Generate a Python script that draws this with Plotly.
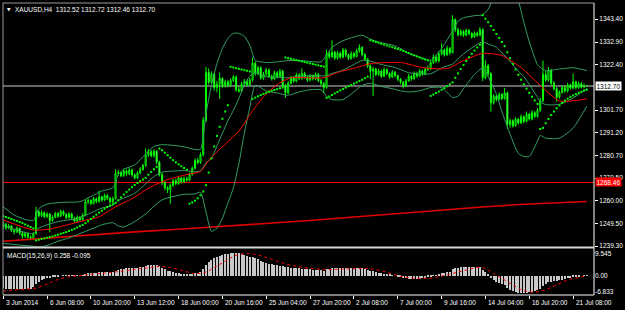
import plotly.graph_objects as go

# ---------------- price data (XAUUSD H4) ----------------
first_open = 1248.0
close = [
    1249.2, 1247.6, 1248.5, 1246.6, 1245.8, 1247.4, 1245.2, 1243.8, 1245.0, 1243.4,
    1242.8, 1244.9, 1255.0, 1253.2, 1254.6, 1252.8, 1253.9, 1251.0, 1252.5, 1254.2,
    1253.0, 1255.1, 1253.8, 1252.4, 1254.0, 1252.1, 1250.8, 1252.6, 1251.4, 1253.5,
    1259.6, 1260.2, 1258.8, 1261.0, 1259.7, 1261.8, 1260.4, 1262.5, 1261.2, 1259.6,
    1261.0, 1272.6, 1273.0, 1271.6, 1273.8, 1272.4, 1274.2, 1271.9, 1270.6, 1272.8,
    1274.5, 1276.2, 1281.0, 1282.6, 1280.8, 1282.8, 1277.8, 1272.0, 1268.4, 1266.0,
    1265.2, 1267.2, 1269.2, 1268.0, 1270.5, 1268.8, 1270.2, 1269.5, 1272.2, 1275.0,
    1278.6, 1277.6, 1281.2, 1297.0, 1319.0, 1314.5, 1318.2, 1312.0, 1313.6, 1316.2,
    1312.8, 1314.6, 1313.0, 1315.3, 1316.9, 1311.0, 1310.4, 1313.6, 1314.8, 1313.2,
    1315.5, 1323.2, 1318.4, 1321.0, 1316.4, 1318.2, 1320.0, 1317.2, 1316.0, 1318.8,
    1317.0, 1319.5, 1313.0, 1309.6, 1314.0, 1316.5, 1315.0, 1317.8, 1316.2, 1318.5,
    1316.8, 1315.5, 1317.3, 1316.0, 1318.0, 1315.2, 1313.8, 1312.0, 1327.6, 1326.2,
    1328.2, 1325.5, 1327.8, 1326.0, 1329.2, 1327.0, 1325.4, 1327.6, 1326.3, 1328.8,
    1330.4, 1327.2, 1325.0, 1322.0, 1319.5, 1320.5, 1318.0, 1319.6, 1317.2, 1320.2,
    1318.5, 1316.8, 1319.0, 1317.5, 1315.8, 1314.5, 1312.8, 1315.0, 1317.2, 1316.0,
    1318.5, 1317.3, 1319.6, 1318.2, 1320.4, 1320.5, 1323.5, 1326.0, 1324.2, 1327.5,
    1329.2, 1327.0, 1330.0, 1328.0, 1343.2, 1338.5, 1336.2, 1337.8, 1336.0, 1338.2,
    1336.8, 1335.2, 1337.0, 1336.0, 1338.6, 1316.5, 1322.0, 1318.4, 1305.0, 1308.0,
    1306.5, 1308.8, 1307.0, 1309.5, 1295.0, 1296.8, 1294.5, 1297.5, 1295.8, 1298.6,
    1296.5, 1299.8, 1297.6, 1300.5, 1298.8, 1301.5, 1306.0, 1318.0, 1315.5, 1320.0,
    1314.0, 1311.5, 1307.6, 1309.8, 1312.0, 1310.5, 1313.2, 1311.8, 1314.6, 1312.0,
    1313.8, 1312.2, 1312.52, 1312.70,
]
high = [
    1250.6, 1250.0, 1249.4, 1248.9, 1247.2, 1248.2, 1247.8, 1245.9, 1245.8, 1245.6,
    1244.2, 1245.6, 1257.3, 1255.8, 1255.6, 1255.2, 1254.8, 1254.4, 1253.4, 1255.0,
    1254.9, 1256.0, 1255.8, 1254.4, 1254.9, 1254.6, 1252.8, 1253.3, 1253.0, 1254.3,
    1260.6, 1261.2, 1260.8, 1261.9, 1261.6, 1264.8, 1262.4, 1263.4, 1263.1, 1261.8,
    1261.9, 1274.5, 1274.2, 1273.6, 1274.8, 1274.4, 1275.2, 1274.8, 1272.6, 1273.7,
    1275.4, 1277.0, 1284.0, 1283.8, 1283.4, 1283.7, 1283.2, 1278.4, 1272.8, 1269.0,
    1266.8, 1268.0, 1270.0, 1270.2, 1271.4, 1271.0, 1271.2, 1271.0, 1273.0, 1275.8,
    1279.5, 1279.8, 1282.2, 1298.5, 1321.5, 1320.8, 1319.4, 1318.8, 1315.0, 1318.9,
    1316.8, 1315.6, 1315.4, 1316.2, 1317.8, 1317.5, 1312.6, 1314.6, 1315.9, 1315.6,
    1316.4, 1325.8, 1324.0, 1322.0, 1321.8, 1319.2, 1321.0, 1320.8, 1318.0, 1319.8,
    1319.6, 1320.6, 1320.2, 1313.8, 1315.0, 1317.4, 1317.2, 1318.8, 1318.6, 1320.8,
    1319.2, 1317.6, 1318.2, 1318.0, 1319.0, 1318.8, 1316.0, 1314.6, 1329.5, 1328.6,
    1333.7, 1328.8, 1328.8, 1328.4, 1330.2, 1329.8, 1327.6, 1328.6, 1328.2, 1329.8,
    1331.8, 1331.0, 1327.8, 1325.6, 1322.6, 1321.4, 1321.0, 1320.6, 1320.2, 1321.2,
    1320.8, 1319.0, 1320.0, 1319.6, 1318.0, 1316.4, 1315.0, 1316.0, 1318.2, 1317.8,
    1319.4, 1319.2, 1320.6, 1320.2, 1321.4, 1322.2, 1324.6, 1327.2, 1326.8, 1328.6,
    1332.3, 1330.0, 1331.2, 1330.6, 1345.2, 1343.8, 1339.4, 1338.8, 1338.4, 1339.0,
    1338.8, 1337.4, 1337.8, 1337.6, 1339.8, 1339.2, 1324.5, 1322.8, 1319.0, 1309.0,
    1308.8, 1309.8, 1309.4, 1311.8, 1310.2, 1297.8, 1297.4, 1298.4, 1298.0, 1299.6,
    1299.2, 1301.0, 1300.4, 1301.6, 1301.2, 1302.6, 1307.2, 1324.4, 1319.6, 1321.4,
    1320.6, 1315.0, 1312.2, 1310.8, 1313.0, 1312.8, 1314.2, 1313.8, 1318.4, 1315.2,
    1314.8, 1314.4, 1313.8, 1312.72,
]
low = [
    1247.2, 1246.8, 1247.0, 1245.8, 1244.6, 1245.2, 1244.4, 1242.6, 1243.0, 1242.4,
    1241.9, 1242.2, 1244.5, 1252.4, 1252.6, 1252.0, 1252.2, 1245.7, 1250.4, 1252.0,
    1252.2, 1252.6, 1253.0, 1251.6, 1251.9, 1251.3, 1250.0, 1250.2, 1250.6, 1251.0,
    1253.0, 1258.6, 1258.0, 1258.3, 1258.9, 1259.2, 1259.6, 1259.9, 1260.4, 1258.7,
    1259.0, 1260.6, 1271.4, 1270.8, 1271.0, 1271.6, 1271.8, 1271.1, 1269.8, 1270.0,
    1272.2, 1273.8, 1275.6, 1280.2, 1280.0, 1279.8, 1276.8, 1271.2, 1267.2, 1264.8,
    1263.6, 1258.7, 1266.4, 1267.2, 1267.4, 1268.0, 1268.2, 1268.8, 1269.0, 1271.6,
    1274.4, 1276.8, 1277.0, 1280.4, 1296.2, 1313.4, 1313.8, 1310.6, 1309.8, 1306.8,
    1311.8, 1312.0, 1312.2, 1312.4, 1314.6, 1310.2, 1309.6, 1309.8, 1312.8, 1312.4,
    1312.6, 1314.8, 1317.4, 1317.6, 1315.6, 1315.6, 1317.4, 1316.4, 1315.2, 1315.4,
    1316.2, 1316.4, 1312.2, 1307.3, 1309.0, 1313.4, 1314.2, 1314.4, 1315.4, 1315.6,
    1316.0, 1314.6, 1314.8, 1315.2, 1315.4, 1314.4, 1313.0, 1309.5, 1311.4, 1325.2,
    1325.6, 1324.6, 1324.8, 1325.2, 1325.4, 1326.0, 1324.6, 1324.8, 1325.4, 1325.8,
    1328.0, 1326.4, 1324.2, 1321.0, 1316.0, 1308.2, 1317.2, 1317.4, 1316.4, 1316.8,
    1317.6, 1316.0, 1316.4, 1316.6, 1315.0, 1313.6, 1311.6, 1312.2, 1314.6, 1315.2,
    1315.6, 1316.4, 1316.8, 1317.4, 1317.6, 1319.6, 1320.0, 1322.8, 1323.4, 1323.6,
    1326.8, 1326.2, 1326.6, 1327.0, 1327.6, 1337.4, 1335.4, 1335.6, 1335.2, 1335.6,
    1336.0, 1334.4, 1334.8, 1335.2, 1335.6, 1315.0, 1315.8, 1317.4, 1301.0, 1304.2,
    1305.6, 1306.0, 1306.2, 1306.4, 1293.0, 1293.6, 1293.6, 1294.0, 1295.0, 1295.2,
    1295.6, 1296.0, 1296.8, 1297.0, 1298.0, 1298.2, 1300.8, 1305.2, 1314.6, 1314.8,
    1313.0, 1310.6, 1305.5, 1306.8, 1309.2, 1309.6, 1309.8, 1311.0, 1311.2, 1311.2,
    1311.4, 1311.6, 1311.8, 1312.46,
]
open_ = [first_open] + close[:-1]
bars = list(range(len(close)))

# ---------------- indicators ----------------
bb_idx = [0, 4, 8, 11, 13, 16, 20, 24, 28, 32, 36, 40, 42, 44, 48, 52, 55, 58, 62, 66,
          70, 72, 74, 76, 78, 80, 82, 84, 86, 88, 90, 92, 96, 100, 104, 108, 112, 116,
          118, 120, 124, 128, 131, 134, 138, 142, 145, 148, 152, 156, 160, 164, 166,
          168, 172, 175, 177, 180, 182, 185, 188, 190, 192, 195, 196, 198, 203, 208, 213]
bb_upper = [1257.3, 1253.5, 1251.5, 1251.0, 1256.5, 1258.5, 1259.2, 1259.4, 1259.6, 1262.0,
            1264.5, 1266.0, 1272.0, 1274.5, 1276.5, 1281.5, 1285.0, 1285.8, 1285.5, 1284.8,
            1283.6, 1283.7, 1300.0, 1313.0, 1323.0, 1330.0, 1334.5, 1336.9, 1336.9, 1335.5,
            1331.5, 1324.5, 1323.5, 1323.8, 1324.4, 1324.4, 1324.0, 1323.8, 1327.0, 1330.5,
            1333.5, 1335.2, 1336.0, 1334.2, 1332.6, 1331.5, 1330.0, 1327.6, 1326.0, 1324.5,
            1330.0, 1338.0, 1342.5, 1344.0, 1345.0, 1345.4, 1348.0, 1356.0, 1360.0, 1362.0,
            1352.0, 1342.0, 1333.0, 1322.5, 1321.3, 1319.8, 1320.5, 1321.1, 1319.8]
bb_mid = [1249.0, 1247.0, 1245.5, 1245.0, 1247.5, 1249.0, 1250.5, 1251.3, 1252.3, 1254.5,
          1256.7, 1258.0, 1260.2, 1261.3, 1263.5, 1267.8, 1271.2, 1273.2, 1273.7, 1273.9,
          1273.4, 1273.8, 1277.5, 1279.5, 1285.3, 1291.0, 1296.8, 1301.5, 1307.0, 1313.2,
          1317.3, 1318.8, 1317.0, 1316.7, 1316.5, 1317.2, 1317.5, 1317.4, 1317.5, 1318.5,
          1320.0, 1322.6, 1324.5, 1324.1, 1322.6, 1321.5, 1320.3, 1318.8, 1318.3, 1318.3,
          1321.0, 1322.8, 1325.2, 1327.5, 1331.0, 1333.0, 1332.0, 1330.5, 1328.0, 1324.0,
          1319.5, 1317.0, 1313.5, 1307.5, 1305.5, 1304.2, 1304.3, 1307.2, 1311.6]
bb_lower = [1240.5, 1240.0, 1239.5, 1239.2, 1238.8, 1239.5, 1241.5, 1243.0, 1245.0, 1247.0,
            1249.0, 1250.0, 1248.5, 1248.0, 1250.5, 1254.0, 1257.5, 1260.5, 1262.0, 1263.0,
            1263.2, 1264.0, 1255.0, 1246.0, 1247.5, 1252.0, 1259.0, 1266.0, 1277.0, 1291.0,
            1303.0, 1313.0, 1310.5, 1309.5, 1308.5, 1310.0, 1311.0, 1311.0, 1308.0, 1306.5,
            1306.5, 1310.0, 1313.0, 1314.0, 1312.5, 1311.5, 1310.5, 1310.0, 1310.5, 1312.0,
            1312.0, 1307.5, 1308.0, 1311.5, 1318.0, 1321.0, 1317.0, 1309.0, 1301.0, 1290.6,
            1281.8, 1280.4, 1280.4, 1287.5, 1290.0, 1288.8, 1288.8, 1293.4, 1303.5]

ma_idx = [0, 11, 17, 29, 35, 41, 47, 54, 60, 67, 72, 75, 79, 86, 91, 96, 101, 105, 117,
          122, 129, 134, 145, 153, 162, 168, 175, 182, 189, 195, 203, 213]
ma_vals = [1251.3, 1246.6, 1247.1, 1250.8, 1252.7, 1257.3, 1261.0, 1266.5, 1269.8, 1272.1,
           1273.5, 1278.6, 1283.7, 1292.0, 1301.3, 1309.1, 1314.2, 1316.5, 1316.5, 1318.9,
           1321.2, 1323.0, 1323.5, 1321.2, 1320.7, 1324.4, 1327.7, 1326.7, 1321.2, 1314.2,
           1305.9, 1306.8]

ma_long_idx = [0, 16, 32, 48, 64, 80, 96, 112, 128, 144, 160, 176, 192, 213]
ma_long_vals = [1241.5, 1243.0, 1244.5, 1245.8, 1247.0, 1248.3, 1249.6, 1251.0, 1252.6,
                1254.2, 1255.8, 1257.3, 1258.6, 1259.7]

sar = [
    1253.0, 1252.6, 1252.2, 1251.7, 1251.2, 1250.8, 1250.3, 1249.8, 1249.2, 1248.6, 1248.0, 1247.4,
    1241.9, 1242.2, 1242.5, 1242.8, 1243.1, 1243.4, 1243.7, 1244.1, 1244.5, 1244.9, 1245.3, 1245.7,
    1246.2, 1246.7, 1247.2, 1247.8, 1248.4, 1249.0,
    1249.8, 1250.7, 1251.7, 1252.7, 1253.7, 1254.6, 1255.5, 1256.4, 1257.2, 1257.9, 1258.5,
    1259.1, 1260.3, 1261.6, 1262.9, 1264.1, 1265.2, 1266.3, 1267.3, 1268.2, 1269.0, 1269.8, 1270.6,
    1272.0, 1273.3, 1274.5, 1275.6,
    1284.0, 1283.2, 1282.1, 1281.0, 1279.8, 1278.7, 1277.7, 1276.8, 1275.9, 1275.1, 1274.3,
    1258.7, 1259.3, 1260.1, 1261.2, 1262.6, 1264.3, 1267.2, 1273.0, 1279.5, 1285.0, 1289.8, 1294.0,
    1297.7, 1301.0, 1303.9,
    1321.5, 1321.2, 1320.9, 1320.6, 1320.3, 1320.0, 1319.7, 1319.4,
    1306.8, 1307.4, 1308.0, 1308.6, 1309.1, 1309.6, 1310.1, 1310.5, 1310.9, 1311.3, 1311.7, 1312.0,
    1325.8, 1325.5, 1325.2, 1324.9, 1324.6, 1324.3, 1324.0, 1323.7, 1323.4, 1323.1, 1322.8, 1322.5,
    1322.2, 1321.9, 1321.6,
    1307.3, 1307.9, 1308.6, 1309.3, 1310.0, 1310.7, 1311.4, 1312.0, 1312.6, 1313.2, 1313.8, 1314.4,
    1315.0, 1315.6, 1316.3, 1317.0,
    1333.7, 1333.3, 1332.9, 1332.5, 1332.1, 1331.7, 1331.3, 1330.9, 1330.5, 1330.1, 1329.7, 1329.3,
    1328.8, 1328.3, 1327.8, 1327.3, 1326.8, 1326.3, 1325.8, 1325.3, 1324.9, 1324.5,
    1308.2, 1308.8, 1309.5, 1310.2, 1311.0, 1311.8, 1312.6, 1313.5, 1314.4, 1316.5, 1318.5, 1320.5,
    1322.4, 1324.2, 1325.9, 1327.5, 1329.0, 1330.4, 1331.7,
    1345.2, 1343.6, 1342.0, 1340.2, 1338.4, 1336.6, 1334.8, 1332.9, 1331.0, 1328.2, 1325.5, 1322.8,
    1320.3, 1317.9, 1315.6, 1313.5, 1311.5, 1309.6, 1307.8, 1306.1, 1304.5,
    1293.0, 1293.5, 1295.6, 1297.6, 1299.4, 1301.0, 1302.5, 1303.8, 1305.0, 1306.0, 1306.9, 1307.7,
    1308.4, 1309.0, 1309.6, 1310.1, 1310.6, 1311.0,
]

macd_hist = [
    -5.0, -5.1, -5.2, -5.3, -5.3, -5.2, -5.3, -5.4, -5.3, -5.2, -5.1,
    -4.4, -3.2, -2.4, -1.8, -1.3, -1.0, -0.8, -0.6, -0.4, -0.2,
    0.0, 0.1, 0.2, 0.3, 0.3, 0.2, 0.2, 0.2, 0.3, 0.7,
    1.0, 1.1, 1.3, 1.3, 1.5, 1.5, 1.6, 1.6, 1.5, 1.5,
    2.1, 2.5, 2.7, 2.9, 3.0, 3.2, 3.2, 3.1, 3.2, 3.4,
    3.6, 4.0, 4.3, 4.4, 4.5, 4.3, 3.8, 3.2, 2.6, 2.1,
    1.8, 1.6, 1.3, 1.1, 0.9, 0.8, 0.6, 0.6, 0.7, 1.0,
    1.2, 1.5, 2.6, 4.4, 5.5, 6.5, 7.0, 7.5, 8.0, 8.3,
    8.6, 8.8, 9.1, 9.3, 9.3, 9.2, 8.9, 8.5, 8.1, 7.7,
    7.5, 7.0, 6.6, 6.1, 5.6, 5.2, 4.9, 4.6, 4.4, 4.3,
    4.1, 3.8, 3.5, 3.5, 3.3, 3.2, 3.1, 3.0, 2.9, 2.8,
    2.7, 2.6, 2.5, 2.4, 2.3, 2.2, 2.0, 2.6, 2.8, 3.0,
    3.0, 3.1, 3.0, 3.1, 3.1, 3.0, 3.0, 3.0, 3.1, 3.2,
    3.0, 2.7, 2.4, 2.0, 1.8, 1.5, 1.3, 1.0, 0.9, 0.7,
    0.4, 0.2, 0.0, -0.3, -0.5, -0.8, -1.0, -1.1, -1.2, -1.2,
    -1.2, -1.1, -1.0, -0.8, -0.5, -0.2, 0.1, 0.3, 0.6, 1.0,
    1.1, 1.4, 1.5, 2.6, 3.1, 3.3, 3.5, 3.6, 3.7, 3.7,
    3.6, 3.7, 3.6, 3.7, 2.2, 1.5, 0.8, -0.8, -1.8, -2.6,
    -3.0, -3.4, -3.6, -4.8, -5.6, -6.2, -6.5, -6.7, -6.8, -6.8,
    -6.7, -6.6, -6.4, -6.2, -5.8, -5.2, -4.0, -3.3, -2.6, -2.3,
    -2.1, -2.0, -1.8, -1.5, -1.3, -1.0, -0.8, -0.5, -0.3, -0.1,
    0.0, 0.1, 0.258,
]
macd_signal = [
    -6.0, -5.9, -5.8, -5.7, -5.6, -5.5, -5.4, -5.35, -5.3, -5.25, -5.2,
    -5.1, -4.9, -4.6, -4.2, -3.8, -3.3, -2.8, -2.3, -1.8, -1.4,
    -1.0, -0.7, -0.5, -0.3, -0.2, -0.1, 0.0, 0.1, 0.2, 0.25,
    0.35, 0.45, 0.6, 0.7, 0.85, 1.0, 1.1, 1.25, 1.35, 1.45,
    1.55, 1.7, 1.85, 2.0, 2.2, 2.4, 2.55, 2.7, 2.85, 3.0,
    3.1, 3.25, 3.4, 3.55, 3.7, 3.8, 3.85, 3.8, 3.7, 3.55,
    3.35, 3.1, 2.8, 2.5, 2.15, 1.85, 1.5, 1.25, 1.05, 0.95,
    0.9, 0.95, 1.1, 1.5, 2.0, 2.65, 3.3, 4.0, 4.75, 5.5,
    6.2, 6.8, 7.3, 7.8, 8.2, 8.5, 8.75, 8.9, 8.95, 8.9,
    8.8, 8.6, 8.4, 8.1, 7.8, 7.4, 7.0, 6.6, 6.2, 5.8,
    5.4, 5.1, 4.8, 4.5, 4.25, 4.0, 3.8, 3.6, 3.45, 3.3,
    3.15, 3.0, 2.9, 2.8, 2.7, 2.6, 2.5, 2.45, 2.45, 2.5,
    2.55, 2.6, 2.65, 2.7, 2.8, 2.85, 2.9, 2.95, 3.0, 3.05,
    3.05, 3.0, 2.95, 2.85, 2.7, 2.5, 2.3, 2.05, 1.8, 1.4,
    1.0, 0.7, 0.4, 0.1, -0.15, -0.4, -0.6, -0.75, -0.85, -0.95,
    -1.0, -1.05, -1.1, -1.1, -1.05, -0.95, -0.8, -0.6, -0.35, -0.1,
    0.15, 0.4, 0.65, 0.95, 1.25, 1.6, 1.9, 2.2, 2.5, 2.75,
    3.0, 3.2, 3.35, 3.45, 3.3, 2.9, 2.3, 1.6, 0.9, 0.2,
    -0.4, -1.0, -1.6, -2.3, -3.0, -3.7, -4.4, -5.0, -5.5, -5.9,
    -6.2, -6.4, -6.5, -6.5, -6.4, -6.2, -5.9, -5.5, -5.0, -4.5,
    -3.9, -3.4, -2.9, -2.4, -2.0, -1.6, -1.3, -1.0, -0.8, -0.6,
    -0.4, -0.25, -0.095,
]

time_label_idx = [0, 16, 32, 48, 64, 80, 96, 112, 128, 144, 160, 176, 192, 208]
time_labels = ["3 Jun 2014", "6 Jun 08:00", "10 Jun 20:00", "13 Jun 12:00", "18 Jun 00:00",
               "20 Jun 16:00", "25 Jun 04:00", "27 Jun 20:00", "2 Jul 08:00", "7 Jul 00:00",
               "9 Jul 16:00", "14 Jul 04:00", "16 Jul 20:00", "21 Jul 08:00"]
price_ticks = [1343.40, 1332.90, 1322.40, 1301.70, 1291.20, 1280.70, 1270.50, 1260.00, 1249.50, 1239.30]
bid_price = 1312.70
level_price = 1268.46
header_text = "XAUUSD,H4  1312.52 1312.72 1312.46 1312.70"
macd_text = "MACD(15,26,9) 0.258 -0.095"

# ---------------- styling ----------------
FONT = "Liberation Sans"
FS = 6.5
LIME = "#00ff00"
BB_COLOR = "#35a064"
W, H = 625, 310
ML, MR, MT, MB = 3, 31, 3, 15
X_RANGE = [-0.073, 215.62]
Y_RANGE = [1238.84, 1350.81]
MACD_RANGE = [-7.6, 10.7]
MAIN_DOM = [0.16438, 1.0]
MACD_DOM = [0.0, 0.1575]

fig = go.Figure()

fig.add_trace(go.Scatter(x=ma_long_idx, y=ma_long_vals, mode="lines",
                         line=dict(color="#e00000", width=1.6), hoverinfo="skip"))
for arr in (bb_upper, bb_mid, bb_lower):
    fig.add_trace(go.Scatter(x=bb_idx, y=arr, mode="lines",
                             line=dict(color=BB_COLOR, width=1, shape="spline", smoothing=0.6),
                             hoverinfo="skip"))
fig.add_trace(go.Scatter(x=ma_idx, y=ma_vals, mode="lines",
                         line=dict(color="#ff0000", width=1, shape="spline", smoothing=0.6),
                         hoverinfo="skip"))
fig.add_trace(go.Candlestick(
    x=bars, open=open_, high=high, low=low, close=close,
    increasing=dict(line=dict(color=LIME, width=1), fillcolor="#000000"),
    decreasing=dict(line=dict(color=LIME, width=1), fillcolor="#ffffff"),
    whiskerwidth=0, hoverinfo="skip"))
fig.add_trace(go.Scatter(x=bars, y=sar, mode="markers",
                         marker=dict(symbol="square", size=2, color=LIME, line=dict(width=0)),
                         hoverinfo="skip"))

fig.add_trace(go.Bar(x=bars, y=macd_hist, xaxis="x2", yaxis="y2", width=0.38,
                     marker=dict(color="#c8c8c8", line=dict(width=0)), hoverinfo="skip"))
fig.add_trace(go.Scatter(x=bars, y=macd_signal, xaxis="x2", yaxis="y2", mode="lines",
                         line=dict(color="#ff0000", width=1, dash="dot"), hoverinfo="skip"))

def px_x(p):
    return (p - ML) / (W - ML - MR)

def px_y(p):
    return (H - MB - p) / (H - MT - MB)

shapes = [
    # horizontal level lines
    dict(type="line", xref="paper", yref="y", x0=0, x1=1, y0=level_price, y1=level_price,
         line=dict(color="#ff0000", width=1), layer="below"),
    dict(type="line", xref="paper", yref="y", x0=0, x1=1, y0=bid_price, y1=bid_price,
         line=dict(color="#8a8a8a", width=1.5), layer="below"),
    # frame
    dict(type="line", xref="paper", yref="paper", x0=0, x1=0, y0=0, y1=1,
         line=dict(color="#9a9a9a", width=1)),
    dict(type="line", xref="paper", yref="paper", x0=0, x1=1, y0=1, y1=1,
         line=dict(color="#9a9a9a", width=1)),
    dict(type="line", xref="paper", yref="paper", x0=1, x1=1, y0=0, y1=1,
         line=dict(color="#ffffff", width=1)),
    dict(type="line", xref="paper", yref="paper", x0=0, x1=1, y0=0, y1=0,
         line=dict(color="#ffffff", width=1)),
    dict(type="line", xref="paper", yref="paper", x0=0, x1=1, y0=px_y(247.5), y1=px_y(247.5),
         line=dict(color="#d8d8d8", width=2)),
]

tick_font = dict(family=FONT, size=FS, color="#ffffff")
annotations = [
    dict(xref="paper", yref="paper", x=px_x(5), y=px_y(10), xanchor="left", yanchor="middle",
         text="\u25bc", showarrow=False, font=dict(family="DejaVu Sans", size=4.5, color="#ffffff")),
    dict(xref="paper", yref="paper", x=px_x(12.5), y=px_y(10), xanchor="left", yanchor="middle",
         text=header_text, showarrow=False, font=tick_font),
    dict(xref="paper", yref="paper", x=px_x(4.5), y=px_y(256), xanchor="left", yanchor="middle",
         text=macd_text, showarrow=False, font=tick_font),
    dict(xref="paper", yref="y", x=1, y=level_price, xanchor="left", yanchor="middle", xshift=1,
         text=level_price.__format__(".2f"), showarrow=False, bgcolor="#ff0000", borderpad=0.5,
         font=dict(family=FONT, size=FS, color="#ffffff")),
    dict(xref="paper", yref="y", x=1, y=bid_price, xanchor="left", yanchor="middle", xshift=1,
         text=bid_price.__format__(".2f"), showarrow=False, bgcolor="#ffffff", borderpad=0.5,
         font=dict(family=FONT, size=FS, color="#000000")),
]
for idx, lab in zip(time_label_idx, time_labels):
    annotations.append(dict(xref="x2", yref="paper", x=idx, y=px_y(302), xanchor="left",
                            yanchor="middle", xshift=0.5, text=lab, showarrow=False, font=tick_font))

fig.update_layout(
    width=W, height=H, margin=dict(l=ML, r=MR, t=MT, b=MB, pad=0),
    paper_bgcolor="#000000", plot_bgcolor="#000000", showlegend=False,
    font=dict(family=FONT, size=FS, color="#ffffff"),
    xaxis=dict(domain=[0, 1], range=X_RANGE, anchor="y", showticklabels=False, showgrid=False,
               zeroline=False, rangeslider=dict(visible=False), fixedrange=True, ticks=""),
    xaxis2=dict(domain=[0, 1], range=X_RANGE, anchor="y2", showticklabels=False, showgrid=False,
                zeroline=False, ticks="outside", ticklen=3, tickwidth=1, tickcolor="#ffffff",
                tickvals=time_label_idx, fixedrange=True),
    yaxis=dict(domain=MAIN_DOM, range=Y_RANGE, anchor="x", side="right", showgrid=False,
               zeroline=False, tickvals=price_ticks, ticktext=[f"{v:.2f}" for v in price_ticks],
               ticks="outside", ticklen=3, tickwidth=1, tickcolor="#ffffff", tickfont=tick_font,
               fixedrange=True),
    yaxis2=dict(domain=MACD_DOM, range=MACD_RANGE, anchor="x2", side="right", showgrid=False,
                zeroline=False, tickvals=[8.7, 0.0, -6.2], ticktext=["9.545", "0.00", "-6.833"],
                ticks="", tickfont=tick_font, fixedrange=True),
    bargap=0, boxgap=0.45,
    shapes=shapes, annotations=annotations,
)

fig.write_html("out.html")
